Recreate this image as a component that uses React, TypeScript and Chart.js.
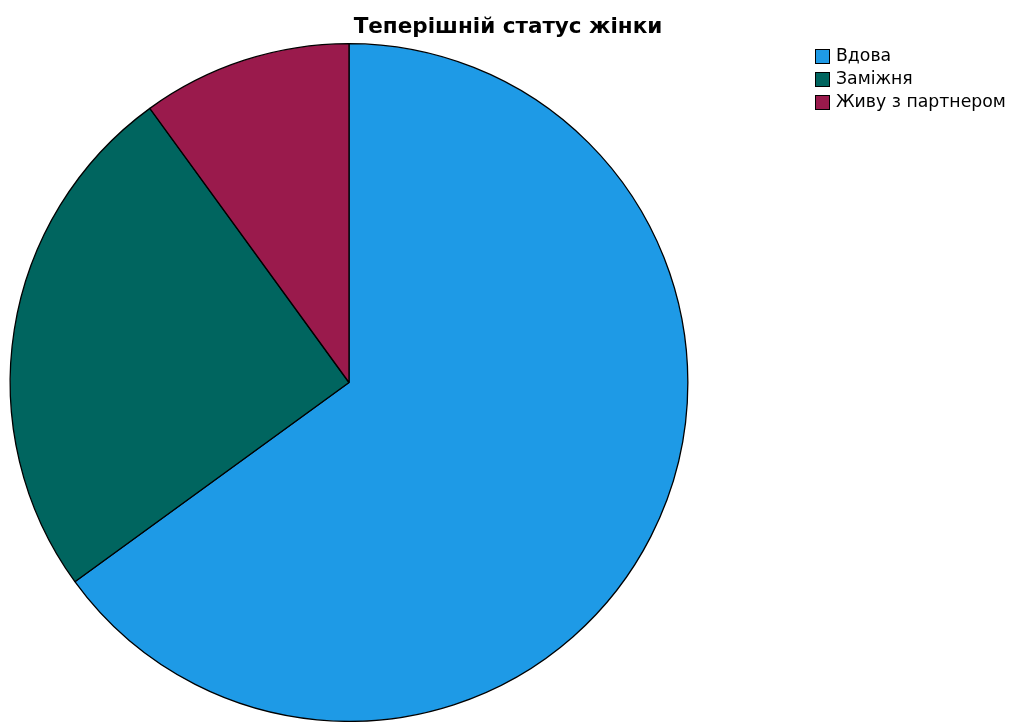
import React, { useEffect, useRef } from "react";
import { Chart, registerables } from "chart.js";

Chart.register(...registerables);

const titleText = "Теперішній статус жінки";
const categories = ["Вдова", "Заміжня", "Живу з партнером"];
const values = [65, 25, 10];
const colors = ["#1E9AE6", "#00655F", "#9A1A4C"];

const overlayPlugin = {
  id: "overlay",
  afterDraw(chart: any) {
    const ctx = chart.ctx;
    ctx.save();
    ctx.fillStyle = "#000";
    ctx.font = "bold 21.5px 'DejaVu Sans'";
    ctx.textAlign = "center";
    ctx.textBaseline = "middle";
    ctx.fillText(titleText, 508, 27);
    ctx.font = "17.3px 'DejaVu Sans'";
    ctx.textAlign = "left";
    const labels = chart.data.labels as string[];
    const bg = chart.data.datasets[0].backgroundColor as string[];
    labels.forEach((lab, i) => {
      const y = 56 + i * 23;
      ctx.fillStyle = bg[i];
      ctx.fillRect(815, y - 7, 15, 15);
      ctx.strokeStyle = "#000";
      ctx.lineWidth = 1;
      ctx.strokeRect(815.5, y - 6.5, 14, 14);
      ctx.fillStyle = "#000";
      ctx.fillText(lab, 836, y + 1);
    });
    ctx.restore();
  },
};

export default function App() {
  const ref = useRef<HTMLCanvasElement>(null);
  useEffect(() => {
    document.body.style.margin = "0";
    const chart = new Chart(ref.current!, {
      type: "pie",
      data: {
        labels: categories,
        datasets: [
          {
            data: values,
            backgroundColor: colors,
            borderColor: "#000",
            borderWidth: 1.3,
          },
        ],
      },
      options: {
        animation: false,
        responsive: false,
        layout: { padding: { left: 9, right: 322, top: 43, bottom: 0 } },
        plugins: {
          legend: { display: false },
          title: { display: false },
          tooltip: { enabled: false },
        },
      },
      plugins: [overlayPlugin],
    });
    return () => chart.destroy();
  }, []);
  return (
    <div style={{ width: 1011, height: 722, background: "#fff" }}>
      <canvas ref={ref} width={1011} height={722} />
    </div>
  );
}
